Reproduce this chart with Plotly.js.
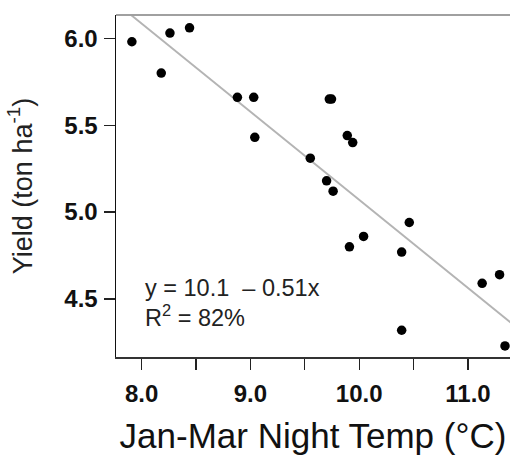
<!DOCTYPE html>
<html>
<head>
<meta charset="utf-8">
<script src="https://cdn.plot.ly/plotly-3.0.1.min.js"></script>
<style>html,body{margin:0;padding:0;background:#fff;}#chart{width:510px;height:455px;}</style>
</head>
<body>
<div id="chart"></div>
<script>
var nightTemp = [7.91, 8.18, 8.26, 8.44, 8.88, 9.03, 9.04, 9.55, 9.70, 9.725, 9.745, 9.76, 9.89, 9.94, 9.91, 10.04, 10.39, 10.39, 10.46, 11.13, 11.29, 11.34];
var yieldTon  = [5.98, 5.80, 6.03, 6.06, 5.66, 5.66, 5.43, 5.31, 5.18, 5.65, 5.65, 5.12, 5.44, 5.40, 4.80, 4.86, 4.77, 4.32, 4.94, 4.59, 4.64, 4.23];
// Fitted regression line endpoints
var fitX = [7.90, 11.40];
var fitY = [6.135, 4.36];
// Tick labels (ticks every 0.5, labels on whole degrees)
var xTickVals = [8.0, 8.5, 9.0, 9.5, 10.0, 10.5, 11.0];
var xTickText = ['8.0', ' ', '9.0', ' ', '10.0', ' ', '11.0'];
var yTickVals = [4.5, 5.0, 5.5, 6.0];
var yTickText = ['4.5', '5.0', '5.5', '6.0'];
var eqLines = ['y = 10.1 \u00a0\u2013 0.51x', 'R<sup>2</sup> = 82%'];

var FONT = 'Liberation Sans, Arial, sans-serif';

var traces = [
  {x: fitX, y: fitY, mode: 'lines', line: {color: '#b4b4b4', width: 2}, hoverinfo: 'skip', showlegend: false},
  {x: nightTemp, y: yieldTon, mode: 'markers', marker: {color: '#000', size: 9.5}, showlegend: false}
];

var layout = {
  width: 510, height: 455,
  margin: {l: 116, r: 0, t: 15, b: 98},
  paper_bgcolor: '#fff', plot_bgcolor: '#fff',
  showlegend: false,
  xaxis: {
    range: [7.764, 11.386],
    tickvals: xTickVals, ticktext: xTickText,
    ticks: 'outside', ticklen: 11, tickwidth: 1.3, tickcolor: '#222',
    ticklabelstandoff: 4,
    showline: true, linecolor: '#333', linewidth: 1.5,
    showgrid: false, zeroline: false,
    tickfont: {family: FONT, size: 24, color: '#111', weight: 'bold'},
    title: {text: 'Jan-Mar Night Temp (\u00b0C)', font: {family: FONT, size: 35, color: '#111'}, standoff: 18}
  },
  yaxis: {
    range: [4.166, 6.134],
    tickvals: yTickVals, ticktext: yTickText,
    ticks: 'outside', ticklen: 11, tickwidth: 1.3, tickcolor: '#222',
    ticklabelstandoff: 1,
    showline: true, linecolor: '#111', linewidth: 1.5,
    showgrid: false, zeroline: false,
    tickfont: {family: FONT, size: 24, color: '#111', weight: 'bold'},
    title: {text: 'Yield (ton ha<sup>-1</sup>)', font: {family: FONT, size: 27, color: '#222'}, standoff: 24}
  },
  shapes: [
    {type: 'line', xref: 'paper', yref: 'paper', x0: 0, x1: 1, y0: 1, y1: 1, line: {color: '#a0a0a0', width: 2}}
  ],
  annotations: [
    {xref: 'x', yref: 'y', x: 8.01, y: 4.562, xanchor: 'left', yanchor: 'middle', showarrow: false, text: eqLines[0], font: {family: FONT, size: 23.5, color: '#222'}},
    {xref: 'x', yref: 'y', x: 8.01, y: 4.402, xanchor: 'left', yanchor: 'middle', showarrow: false, text: eqLines[1], font: {family: FONT, size: 23.5, color: '#222'}}
  ]
};

Plotly.newPlot('chart', traces, layout, {staticPlot: true, displayModeBar: false});
</script>
</body>
</html>
